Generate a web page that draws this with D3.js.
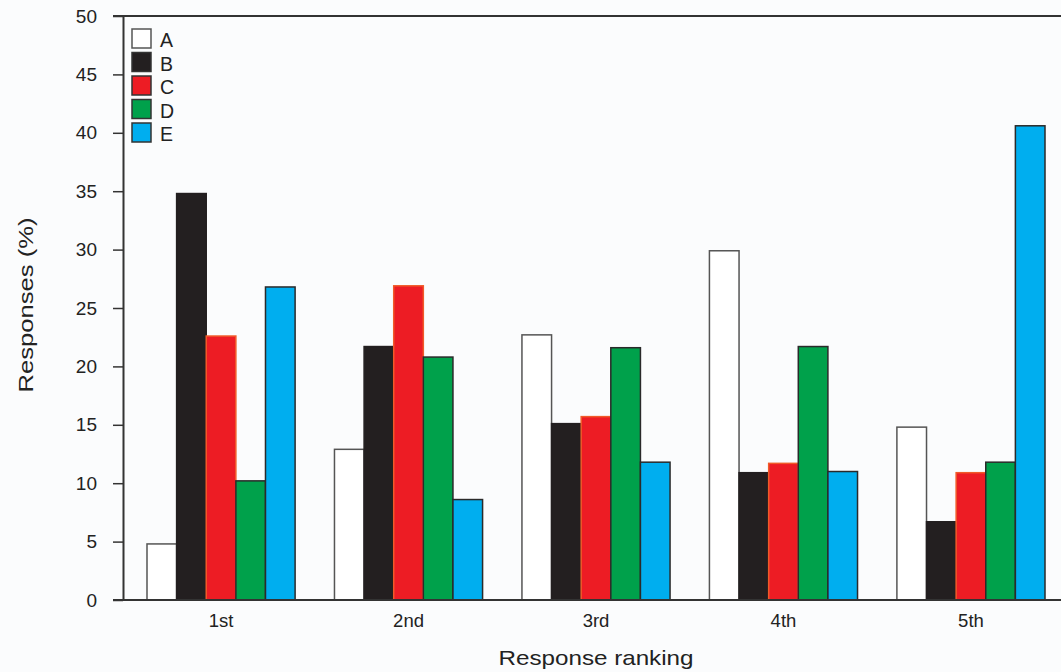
<!DOCTYPE html>
<html>
<head>
<meta charset="utf-8">
<script src="https://cdn.jsdelivr.net/npm/d3@7"></script>
<style>
  html, body { margin: 0; padding: 0; background: #fbfcfd; }
  svg { display: block; font-family: "Liberation Sans", Arial, sans-serif; }
</style>
</head>
<body>
<svg id="chart"></svg>
<script>
// data
const rankings = ['1st', '2nd', '3rd', '4th', '5th'];
const seriesNames = ['A', 'B', 'C', 'D', 'E'];
const seriesA = [4.8, 12.9, 22.7, 29.9, 14.8];
const seriesB = [34.8, 21.7, 15.1, 10.9, 6.7];
const seriesC = [22.6, 26.9, 15.7, 11.7, 10.9];
const seriesD = [10.2, 20.8, 21.6, 21.7, 11.8];
const seriesE = [26.8, 8.6, 11.8, 11.0, 40.6];
const yTicks = [0, 5, 10, 15, 20, 25, 30, 35, 40, 45, 50];

const allSeries = [seriesA, seriesB, seriesC, seriesD, seriesE];
const fills = ['#ffffff', '#231f20', '#ed1c24', '#00a14b', '#00aeef'];
const strokes = ['#555555', '#231f20', '#f15a29', '#2a2a2a', '#2a2a2a'];

const width = 1061, height = 672;
const svg = d3.select('#chart').attr('width', width).attr('height', height);

const plotLeft = 123, plotTop = 16, plotBottom = 600;

const x = d3.scaleBand()
    .domain(rankings)
    .range([plotLeft, 1069])
    .paddingInner(0.21)
    .paddingOuter(0.128);

const xSub = d3.scaleBand()
    .domain(seriesNames)
    .range([0, x.bandwidth()]);

const y = d3.scaleLinear()
    .domain([0, 50])
    .range([plotBottom, plotTop]);

// bars
const groups = svg.append('g')
  .selectAll('g')
  .data(rankings)
  .join('g')
    .attr('transform', d => `translate(${x(d)},0)`);

groups.selectAll('rect')
  .data((d, i) => seriesNames.map((s, j) => ({ s, j, v: allSeries[j][i] })))
  .join('rect')
    .attr('x', d => xSub(d.s))
    .attr('y', d => y(d.v))
    .attr('width', xSub.bandwidth())
    .attr('height', d => y(0) - y(d.v))
    .attr('fill', d => fills[d.j])
    .attr('stroke', d => strokes[d.j])
    .attr('stroke-width', 1.5);

// y axis
const yAxis = svg.append('g')
    .attr('transform', `translate(${plotLeft},0)`)
    .call(d3.axisLeft(y).tickValues(yTicks).tickSize(10).tickPadding(16).tickSizeOuter(0));
yAxis.select('.domain').attr('stroke', '#333').attr('stroke-width', 2);
yAxis.selectAll('.tick line').attr('stroke', '#333').attr('stroke-width', 1.5);
yAxis.selectAll('.tick text')
    .attr('font-size', 19).attr('fill', '#222')
    .attr('font-family', '"Liberation Sans", Arial, sans-serif');

// top and bottom lines
svg.append('line')
    .attr('x1', plotLeft - 10).attr('x2', width)
    .attr('y1', y(50)).attr('y2', y(50))
    .attr('stroke', '#333').attr('stroke-width', 2);

const xAxis = svg.append('g')
    .attr('transform', `translate(0,${plotBottom})`)
    .call(d3.axisBottom(x).tickSize(0).tickPadding(14).tickSizeOuter(0));
xAxis.select('.domain').remove();
xAxis.selectAll('.tick text')
    .attr('font-size', 18.5).attr('fill', '#222')
    .attr('font-family', '"Liberation Sans", Arial, sans-serif');

svg.append('line')
    .attr('x1', plotLeft - 10).attr('x2', width)
    .attr('y1', plotBottom).attr('y2', plotBottom)
    .attr('stroke', '#333').attr('stroke-width', 2);

// axis titles
svg.append('text')
    .attr('transform', `translate(33,305) rotate(-90)`)
    .attr('text-anchor', 'middle')
    .attr('font-size', 21).attr('fill', '#222')
    .attr('textLength', 175).attr('lengthAdjust', 'spacingAndGlyphs')
    .text('Responses (%)');

svg.append('text')
    .attr('x', 596).attr('y', 665)
    .attr('text-anchor', 'middle')
    .attr('font-size', 21).attr('fill', '#222')
    .attr('textLength', 195).attr('lengthAdjust', 'spacingAndGlyphs')
    .text('Response ranking');

// legend
const legend = svg.append('g')
  .selectAll('g')
  .data(seriesNames)
  .join('g')
    .attr('transform', (d, i) => `translate(132,${29 + i * 23.5})`);

legend.append('rect')
    .attr('width', 19).attr('height', 19)
    .attr('fill', (d, i) => fills[i])
    .attr('stroke', (d, i) => i === 0 ? '#555' : '#333')
    .attr('stroke-width', 1.5);

legend.append('text')
    .attr('x', 28).attr('y', 18)
    .attr('font-size', 19.5).attr('fill', '#222')
    .text(d => d);
</script>
</body>
</html>
